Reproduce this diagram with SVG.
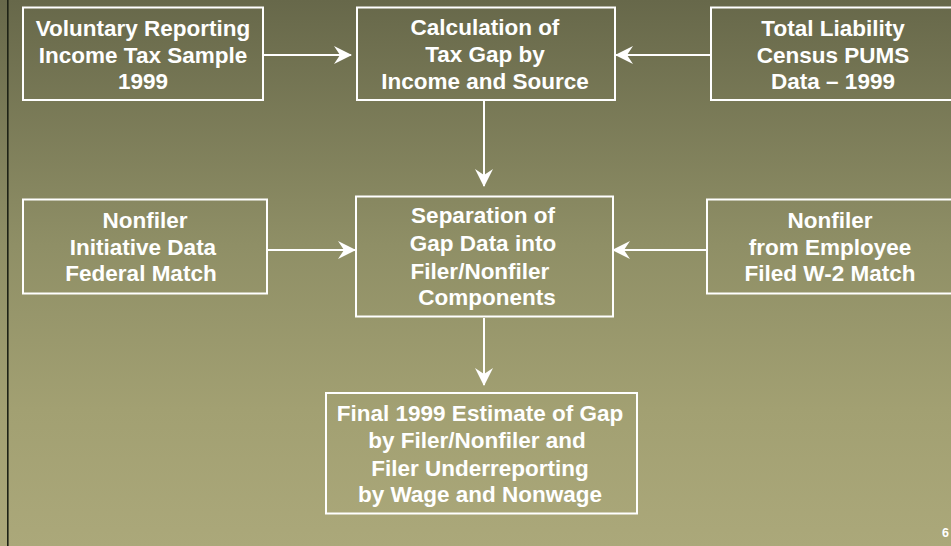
<svg xmlns="http://www.w3.org/2000/svg" width="951" height="546" viewBox="0 0 951 546">
  <defs>
    <linearGradient id="bg" x1="0" y1="0" x2="0" y2="1">
      <stop offset="0" stop-color="#67684a"/>
      <stop offset="0.45" stop-color="#8f8f66"/>
      <stop offset="0.75" stop-color="#a2a072"/>
      <stop offset="1" stop-color="#aba87a"/>
    </linearGradient>
    <marker id="ah" viewBox="0 0 18 18" refX="17" refY="9" markerWidth="18" markerHeight="18" markerUnits="userSpaceOnUse" orient="auto">
      <path d="M0,0 L18,9 L0,18 L6,9 Z" fill="#ffffff"/>
    </marker>
    <style>
      .box { fill: none; stroke: #ffffff; stroke-width: 2; }
      .lbl { font-family: "Liberation Sans", Arial, sans-serif; font-weight: bold; font-size: 22.5px; fill: #ffffff; text-anchor: middle; }
      .conn { stroke: #ffffff; stroke-width: 2; fill: none; marker-end: url(#ah); }
    </style>
  </defs>
  <rect x="0" y="0" width="951" height="546" fill="url(#bg)"/>
  <rect x="7" y="0" width="1.6" height="546" fill="#1f2316"/>

  <g id="connectors">
    <line class="conn" x1="264" y1="55" x2="351" y2="55"/>
    <line class="conn" x1="710" y1="55" x2="616" y2="55"/>
    <line class="conn" x1="484" y1="101" x2="484" y2="186"/>
    <line class="conn" x1="268" y1="250" x2="355" y2="250"/>
    <line class="conn" x1="706" y1="250" x2="613" y2="250"/>
    <line class="conn" x1="484" y1="318" x2="484" y2="385"/>
  </g>

  <g id="n-voluntary">
    <rect class="box" x="23" y="7.5" width="240" height="92.5"/>
    <text class="lbl"><tspan x="143" y="36">Voluntary Reporting</tspan><tspan x="143" y="63">Income Tax Sample</tspan><tspan x="143" y="89">1999</tspan></text>
  </g>
  <g id="n-calculation">
    <rect class="box" x="357" y="7.5" width="258" height="92.5"/>
    <text class="lbl"><tspan x="485" y="35">Calculation of</tspan><tspan x="485" y="62">Tax Gap by</tspan><tspan x="485" y="88.5">Income and Source</tspan></text>
  </g>
  <g id="n-liability">
    <rect class="box" x="711" y="7.5" width="250" height="92.5"/>
    <text class="lbl"><tspan x="833" y="36">Total Liability</tspan><tspan x="833" y="63">Census PUMS</tspan><tspan x="833" y="89">Data – 1999</tspan></text>
  </g>
  <g id="n-initiative">
    <rect class="box" x="23" y="199.5" width="244" height="94"/>
    <text class="lbl"><tspan x="145" y="228">Nonfiler</tspan><tspan x="143" y="254.5">Initiative Data</tspan><tspan x="141" y="281">Federal Match</tspan></text>
  </g>
  <g id="n-separation">
    <rect class="box" x="356" y="196.5" width="257" height="120"/>
    <text class="lbl"><tspan x="483" y="223">Separation of</tspan><tspan x="483" y="250.5">Gap Data into</tspan><tspan x="480" y="278.5">Filer/Nonfiler</tspan><tspan x="487" y="305">Components</tspan></text>
  </g>
  <g id="n-w2">
    <rect class="box" x="707" y="199.5" width="254" height="94"/>
    <text class="lbl"><tspan x="830" y="228">Nonfiler</tspan><tspan x="830" y="254.5">from Employee</tspan><tspan x="830" y="281">Filed W-2 Match</tspan></text>
  </g>
  <g id="n-final">
    <rect class="box" x="326" y="393" width="311" height="120.5"/>
    <text class="lbl"><tspan x="480" y="420.5">Final 1999 Estimate of Gap</tspan><tspan x="477" y="448">by Filer/Nonfiler and</tspan><tspan x="480" y="475.5">Filer Underreporting</tspan><tspan x="480" y="501.5">by Wage and Nonwage</tspan></text>
  </g>
  <text x="949" y="537" font-family="Liberation Sans, Arial, sans-serif" font-weight="bold" font-size="12.5" fill="#ffffff" text-anchor="end">6</text>
</svg>
